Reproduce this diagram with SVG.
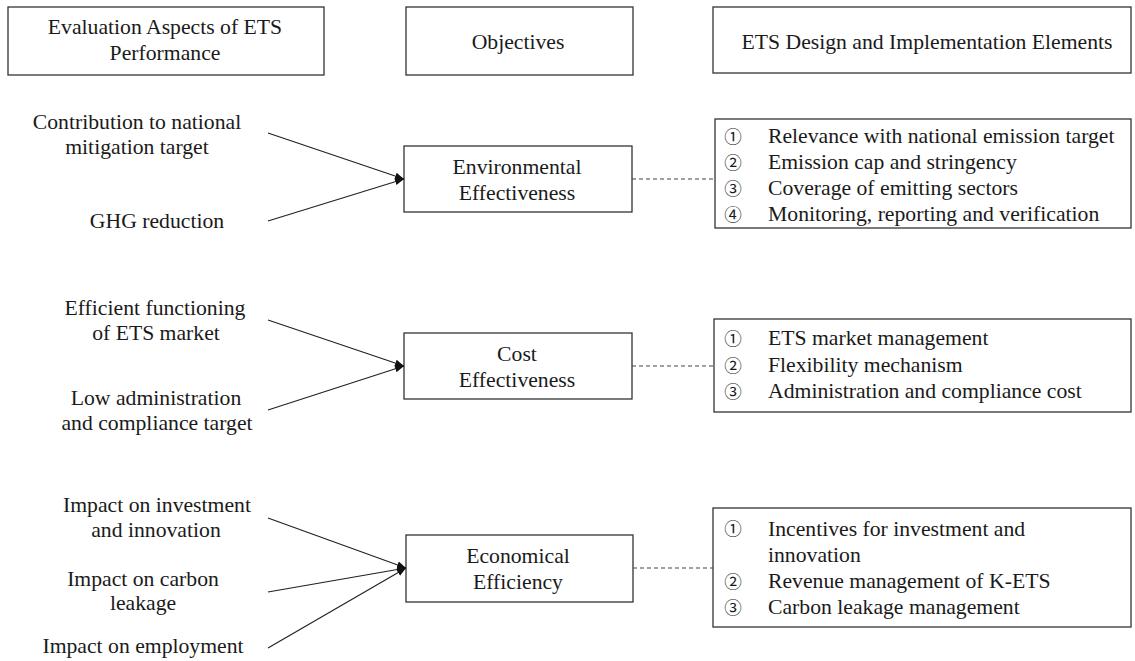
<svg xmlns="http://www.w3.org/2000/svg" width="1135" height="661" viewBox="0 0 1135 661">
<style>
.box{fill:#fff;stroke:#333;stroke-width:1.3}
.t{font-family:"Liberation Serif","Times New Roman",serif;font-size:21.7px;fill:#1a1a1a}
.c{text-anchor:middle}
.n{font-family:"Noto Sans CJK KR","Noto Sans CJK JP","DejaVu Sans",sans-serif;font-size:17.5px;fill:#1a1a1a;text-anchor:middle}
.ln{stroke:#222;stroke-width:1.2;fill:none}
.dash{stroke:#444;stroke-width:1.2;stroke-dasharray:4 3;fill:none}
</style>
<defs>
<marker id="ah" viewBox="0 0 10 10" refX="10" refY="5" markerWidth="9" markerHeight="9" markerUnits="userSpaceOnUse" orient="auto">
<path d="M0,1 L10,5 L0,9 Z" fill="#111"/>
</marker>
</defs>

<g id="hdr-eval">
<rect class="box" x="8" y="7" width="316" height="68"/>
<text class="t c" x="165" y="34">Evaluation Aspects of ETS</text>
<text class="t c" x="165" y="60">Performance</text>
</g>
<g id="hdr-obj">
<rect class="box" x="406" y="7" width="227" height="68"/>
<text class="t c" x="518" y="49">Objectives</text>
</g>
<g id="hdr-design">
<rect class="box" x="713" y="7" width="418" height="66"/>
<text class="t c" x="927" y="49">ETS Design and Implementation Elements</text>
</g>

<g id="src-contribution">
<text class="t c" x="137" y="129">Contribution to national</text>
<text class="t c" x="137" y="154">mitigation target</text>
</g>
<g id="src-ghg">
<text class="t c" x="157" y="228">GHG reduction</text>
</g>
<g id="obj-env">
<rect class="box" x="404" y="146" width="228" height="66"/>
<text class="t c" x="517" y="174">Environmental</text>
<text class="t c" x="517" y="200">Effectiveness</text>
</g>
<g id="el-env">
<rect class="box" x="715" y="119" width="416" height="109"/>
<text class="n" x="733" y="143">①</text>
<text class="t" x="768" y="143">Relevance with national emission target</text>
<text class="n" x="733" y="169">②</text>
<text class="t" x="768" y="169">Emission cap and stringency</text>
<text class="n" x="733" y="195">③</text>
<text class="t" x="768" y="195">Coverage of emitting sectors</text>
<text class="n" x="733" y="221">④</text>
<text class="t" x="768" y="221">Monitoring, reporting and verification</text>
</g>

<g id="src-efficient">
<text class="t c" x="155" y="315">Efficient functioning</text>
<text class="t c" x="156" y="340">of ETS market</text>
</g>
<g id="src-lowadmin">
<text class="t c" x="156" y="405">Low administration</text>
<text class="t c" x="157" y="430">and compliance target</text>
</g>
<g id="obj-cost">
<rect class="box" x="404" y="333" width="228" height="66"/>
<text class="t c" x="517" y="361">Cost</text>
<text class="t c" x="517" y="387">Effectiveness</text>
</g>
<g id="el-cost">
<rect class="box" x="714" y="319" width="417" height="93"/>
<text class="n" x="733" y="345">①</text>
<text class="t" x="768" y="345">ETS market management</text>
<text class="n" x="733" y="372">②</text>
<text class="t" x="768" y="372">Flexibility mechanism</text>
<text class="n" x="733" y="398">③</text>
<text class="t" x="768" y="398">Administration and compliance cost</text>
</g>

<g id="src-invest">
<text class="t c" x="157" y="512">Impact on investment</text>
<text class="t c" x="156" y="537">and innovation</text>
</g>
<g id="src-leakage">
<text class="t c" x="143" y="586">Impact on carbon</text>
<text class="t c" x="143" y="610">leakage</text>
</g>
<g id="src-employment">
<text class="t c" x="143" y="653">Impact on employment</text>
</g>
<g id="obj-eco">
<rect class="box" x="406" y="535" width="227" height="67"/>
<text class="t c" x="518" y="563">Economical</text>
<text class="t c" x="518" y="589">Efficiency</text>
</g>
<g id="el-eco">
<rect class="box" x="713" y="508" width="418" height="119"/>
<text class="n" x="733" y="535">①</text>
<text class="t" x="768" y="536">Incentives for investment and</text>
<text class="t" x="768" y="562">innovation</text>
<text class="n" x="733" y="588">②</text>
<text class="t" x="768" y="588">Revenue management of K-ETS</text>
<text class="n" x="733" y="614">③</text>
<text class="t" x="768" y="614">Carbon leakage management</text>
</g>

<g id="connectors">
<line class="ln" x1="268" y1="133" x2="404" y2="179" marker-end="url(#ah)"/>
<line class="ln" x1="268" y1="221" x2="404" y2="179" marker-end="url(#ah)"/>
<line class="dash" x1="632" y1="179" x2="715" y2="179"/>

<line class="ln" x1="268" y1="320" x2="404" y2="366" marker-end="url(#ah)"/>
<line class="ln" x1="268" y1="410" x2="404" y2="366" marker-end="url(#ah)"/>
<line class="dash" x1="632" y1="366" x2="714" y2="366"/>

<line class="ln" x1="268" y1="518" x2="406" y2="568" marker-end="url(#ah)"/>
<line class="ln" x1="268" y1="592" x2="406" y2="568" marker-end="url(#ah)"/>
<line class="ln" x1="268" y1="648" x2="406" y2="568" marker-end="url(#ah)"/>
<line class="dash" x1="633" y1="568" x2="713" y2="568"/>
</g>
</svg>
